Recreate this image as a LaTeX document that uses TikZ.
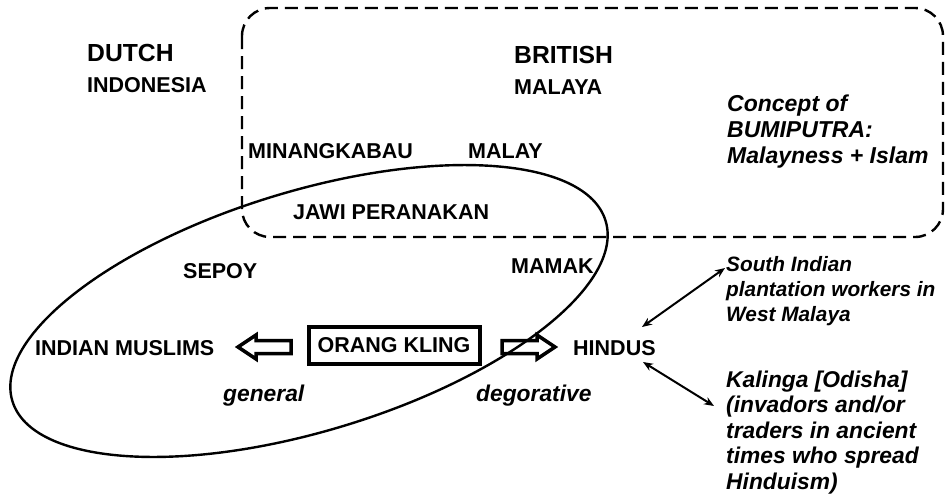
\documentclass[tikz,border=0pt]{standalone}
\usepackage{fontspec}
\setmainfont{Liberation Sans}
\usetikzlibrary{arrows.meta}
\begin{document}
\begin{tikzpicture}[x=1pt,y=-1pt,
  lbl/.style={inner sep=0pt, anchor=base west},
  bigcapt/.style={font=\bfseries\fontsize{24.7}{28}\selectfont},
  capt/.style={font=\bfseries\fontsize{21.5}{26}\selectfont},
  ital/.style={font=\bfseries\itshape\fontsize{22.8}{25.5}\selectfont, align=left},
  itals/.style={font=\bfseries\itshape\fontsize{20.8}{25}\selectfont, align=left},
  dashbox/.style={line width=2.4pt, dash pattern=on 13pt off 7pt, rounded corners=28pt},
  hollow/.style={line width=3.5pt, fill=white, line join=miter},
  kbox/.style={draw, line width=4pt, inner sep=0pt, minimum width=171pt, minimum height=37pt, font=\bfseries\fontsize{21.5}{26}\selectfont},
  dbl/.style={line width=2pt, {Stealth[length=10pt,width=8pt]}-{Stealth[length=10pt,width=8pt]}},
  ell/.style={line width=2.4pt}
]
\useasboundingbox (0,0) rectangle (946,499);

% dashed region
\draw[dashbox] (242,8) rectangle (943,237);

% labels
\node[lbl,bigcapt] (dutch) at (87,61) {DUTCH};
\node[lbl,capt] (indonesia) at (87,92) {INDONESIA};
\node[lbl,bigcapt] (british) at (514,63) {BRITISH};
\node[lbl,capt] (malaya) at (514,94) {MALAYA};
\node[lbl,capt] (minang) at (248,158) {MINANGKABAU};
\node[lbl,capt] (malay) at (468,158) {MALAY};
\node[lbl,capt] (jawi) at (293,219) {JAWI PERANAKAN};
\node[lbl,capt] (sepoy) at (183,278) {SEPOY};
\node[lbl,capt] (mamak) at (511,273) {MAMAK};
\node[lbl,capt] (muslims) at (35,355) {INDIAN MUSLIMS};
\node[lbl,capt] (hindus) at (573,355) {HINDUS};
\node[kbox] (kling) at (394,345.5) {ORANG KLING};
\node[lbl,ital] (general) at (223,401) {general};
\node[lbl,ital] (degor) at (476,401) {degorative};
\node[lbl,ital,font=\bfseries\itshape\fontsize{23}{26}\selectfont] (concept) at (727,163) {Concept of\\BUMIPUTRA:\\Malayness + Islam};
\node[lbl,itals] (south) at (726,321) {South Indian\\plantation workers in\\West Malaya};
\node[lbl,ital] (kalinga) at (726,489) {Kalinga [Odisha]\\(invadors and/or\\traders in ancient\\times who spread\\Hinduism)};

% hollow block arrows
\draw[hollow] (238,347) -- (256,335) -- (256,340.5) -- (291,340.5) -- (291,353.5) -- (256,353.5) -- (256,359) -- cycle;
\draw[hollow] (555,347) -- (537,335) -- (537,340.5) -- (502,340.5) -- (502,353.5) -- (537,353.5) -- (537,359) -- cycle;

% double arrows
\coordinate (h1) at (642,327);
\coordinate (s1) at (725,268);
\coordinate (h2) at (643,362);
\coordinate (k1) at (714,406);
\draw[dbl] (h1) -- (s1);
\draw[dbl] (h2) -- (k1);

% ellipse
\draw[ell, rotate around={16.9:(309,311)}] (309,311) ellipse (310 and 120);
\end{tikzpicture}
\end{document}
